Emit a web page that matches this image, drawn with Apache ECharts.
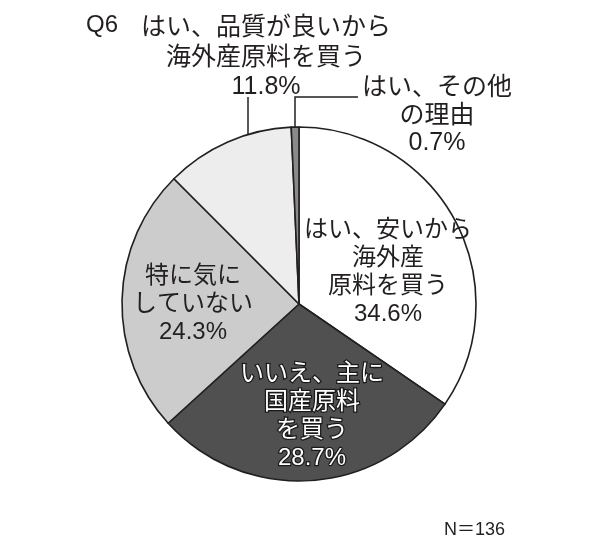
<!DOCTYPE html>
<html>
<head>
<meta charset="utf-8">
<script src="https://cdn.jsdelivr.net/npm/echarts@6/dist/echarts.min.js"></script>
<style>
html,body{margin:0;padding:0;background:#fff;}
#chart{width:600px;height:547px;}
</style>
</head>
<body>
<div id="chart"></div>
<script>
// ---- data ----
const categories = [
  'はい、安いから\n海外産\n原料を買う',
  'いいえ、主に\n国産原料\nを買う',
  '特に気に\nしていない',
  'はい、品質が良いから\n海外産原料を買う',
  'はい、その他\nの理由'
];
const values = [34.6, 28.7, 24.3, 11.8, 0.7];
const questionLabel = 'Q6';
const sampleLabel = 'N＝136';

// ---- styling / layout (not data) ----
const FONT = '"Liberation Sans", "Noto Sans CJK JP", sans-serif';
const INK = '#231f20';
const sliceColors = ['#ffffff', '#505050', '#cccccc', '#ededed', '#8a8a8a'];
const PIE_CENTER = [299, 304];
const PIE_R = 177;
// label block centres and leader paths
const labelPos = [[388, 272], [312, 416], [193, 304], [266, 58], [437, 116]];
const leaderPaths = {
  3: [[248, 152], [248, 97]],
  4: [[295, 128], [295, 97], [358, 97]]
};

const chart = echarts.init(document.getElementById('chart'), null, {renderer: 'canvas'});

const data = categories.map((name, i) => {
  const item = {
    name: name,
    value: values[i],
    itemStyle: {color: sliceColors[i]}
  };
  if (i === 1) {
    item.label = {color: '#ffffff', textBorderColor: '#1a1a1a', textBorderWidth: 2.5};
  }
  if (i >= 3) {
    item.label = {position: 'outside', fontSize: 25, lineHeight: i === 3 ? 29.5 : 27.5};
    item.labelLine = {show: true, lineStyle: {color: INK, width: 1.5}};
  }
  return item;
});

chart.setOption({
  animation: false,
  backgroundColor: '#ffffff',
  title: [
    {text: questionLabel, left: 86, top: 12, padding: 0,
     textStyle: {fontFamily: FONT, fontSize: 24, fontWeight: 'normal', color: INK, lineHeight: 26}},
    {text: sampleLabel, left: 444, top: 520, padding: 0,
     textStyle: {fontFamily: FONT, fontSize: 18, fontWeight: 'normal', color: INK, lineHeight: 20}}
  ],
  series: [{
    type: 'pie',
    center: PIE_CENTER,
    radius: PIE_R,
    startAngle: 90,
    clockwise: true,
    avoidLabelOverlap: false,
    emphasis: {disabled: true},
    itemStyle: {borderColor: INK, borderWidth: 1.6},
    label: {
      show: true,
      position: 'inside',
      formatter: '{b}\n{c}%',
      fontFamily: FONT,
      fontSize: 24,
      lineHeight: 28,
      color: INK,
      align: 'center',
      overflow: 'none'
    },
    labelLine: {show: false},
    labelLayout: function (params) {
      const i = params.dataIndex;
      const res = {
        x: labelPos[i][0],
        y: labelPos[i][1],
        align: 'center',
        verticalAlign: 'middle'
      };
      if (leaderPaths[i]) res.labelLinePoints = leaderPaths[i];
      return res;
    },
    data: data
  }]
});
</script>
</body>
</html>
